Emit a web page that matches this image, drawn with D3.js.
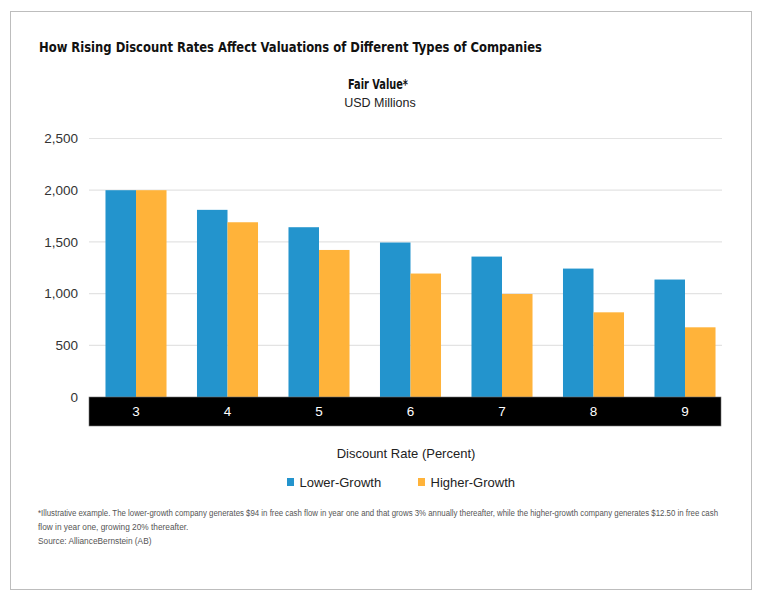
<!DOCTYPE html>
<html>
<head>
<meta charset="utf-8">
<script src="https://cdn.jsdelivr.net/npm/d3@7"></script>
<style>
  body { margin: 0; background: #fff; }
  text { font-family: "Liberation Sans", Arial, sans-serif; }
  .cond { font-family: "Liberation Sans Narrow", "DejaVu Sans Condensed", "Roboto Condensed", sans-serif; font-stretch: condensed; font-weight: bold; }
</style>
</head>
<body>
<svg id="chart" width="763" height="602"></svg>
<script>
// discount rates on x axis
var categories = ['3', '4', '5', '6', '7', '8', '9'];
var seriesNames = ['Lower-Growth', 'Higher-Growth'];
var lowerGrowth = [2000, 1810, 1642, 1494, 1358, 1242, 1136];
var higherGrowth = [2000, 1690, 1422, 1194, 996, 819, 674];
var yTicks = [0, 500, 1000, 1500, 2000, 2500];
var colors = ['#2394cd', '#ffb33a'];

var footnote = [
  '*Illustrative example. The lower-growth company generates $94 in free cash flow in year one and that grows 3% annually thereafter, while the higher-growth company generates $12.50 in free cash',
  'flow in year one, growing 20% thereafter.',
  'Source: AllianceBernstein (AB)'
];

var svg = d3.select('#chart');

// outer frame
svg.append('rect')
    .attr('x', 10.5).attr('y', 11.5)
    .attr('width', 741).attr('height', 578)
    .attr('fill', '#fff').attr('stroke', '#bdbdbd');

// squeeze text to the width seen in the picture
function fitText(sel, w) {
  var len = sel.node().getComputedTextLength();
  if (Math.abs(len - w) > 2) sel.attr('textLength', w).attr('lengthAdjust', 'spacingAndGlyphs');
}

var title = svg.append('text').attr('class', 'cond')
    .attr('x', 39).attr('y', 51.5)
    .attr('font-size', 14.5).attr('fill', '#111')
    .text('How Rising Discount Rates Affect Valuations of Different Types of Companies');
fitText(title, 503);

var sub = svg.append('text').attr('class', 'cond')
    .attr('x', 378).attr('y', 88.5).attr('text-anchor', 'middle')
    .attr('font-size', 14).attr('fill', '#111')
    .text('Fair Value*');
fitText(sub, 60);

svg.append('text')
    .attr('x', 380).attr('y', 107).attr('text-anchor', 'middle')
    .attr('font-size', 12.5).attr('fill', '#222')
    .text('USD Millions');

var y = d3.scaleLinear().domain([0, 2500]).range([397, 138.5]);

var x0 = d3.scaleBand().domain(categories).range([90.25, 730.75])
    .paddingInner(0.333).paddingOuter(0.1665);
var x1 = d3.scaleBand().domain(seriesNames).range([0, x0.bandwidth()]);

// gridlines
svg.append('g').selectAll('line').data(yTicks.slice(1)).join('line')
    .attr('x1', 89).attr('x2', 722)
    .attr('y1', function(d) { return y(d); })
    .attr('y2', function(d) { return y(d); })
    .attr('stroke', '#e3e3e3').attr('stroke-width', 1.2);

svg.append('g').selectAll('text').data(yTicks).join('text')
    .attr('x', 78).attr('y', function(d) { return y(d); })
    .attr('dy', '0.36em').attr('text-anchor', 'end')
    .attr('font-size', 13.5).attr('fill', '#333')
    .text(d3.format(','));

var rows = categories.map(function(c, i) {
  return { cat: c, vals: [lowerGrowth[i], higherGrowth[i]] };
});

var groups = svg.append('g').selectAll('g').data(rows).join('g')
    .attr('transform', function(d) { return 'translate(' + x0(d.cat) + ',0)'; });

groups.selectAll('rect').data(function(d) {
  return d.vals.map(function(v, j) { return { name: seriesNames[j], v: v, j: j }; });
}).join('rect')
    .attr('x', function(d) { return x1(d.name); })
    .attr('width', x1.bandwidth())
    .attr('y', function(d) { return y(d.v); })
    .attr('height', function(d) { return y(0) - y(d.v); })
    .attr('fill', function(d) { return colors[d.j]; });

// black category band
svg.append('rect')
    .attr('x', 89).attr('y', y(0))
    .attr('width', 632).attr('height', 29)
    .attr('fill', '#000').attr('stroke', '#777').attr('stroke-width', 0.6);

svg.append('g').selectAll('text').data(categories).join('text')
    .attr('x', function(d) { return x0(d) + x0.bandwidth() / 2; })
    .attr('y', 416)
    .attr('text-anchor', 'middle')
    .attr('font-size', 13.5).attr('fill', '#fff')
    .text(function(d) { return d; });

svg.append('text')
    .attr('x', 406).attr('y', 457.5).attr('text-anchor', 'middle')
    .attr('font-size', 13).attr('fill', '#222')
    .text('Discount Rate (Percent)');

// legend
var legendX = [287, 418];
var leg = svg.append('g').selectAll('g').data(seriesNames).join('g')
    .attr('transform', function(d, i) { return 'translate(' + legendX[i] + ',0)'; });
leg.append('rect')
    .attr('x', 0).attr('y', 478).attr('width', 7).attr('height', 8)
    .attr('fill', function(d, i) { return colors[i]; });
leg.append('text')
    .attr('x', 12.5).attr('y', 486.5)
    .attr('font-size', 13).attr('fill', '#222')
    .text(function(d) { return d; });

var fn = svg.append('g').selectAll('text').data(footnote).join('text')
    .attr('x', 38)
    .attr('y', function(d, i) { return 515.5 + i * 14; })
    .attr('font-size', 8.3).attr('fill', '#555')
    .text(function(d) { return d; });
fitText(d3.select(fn.nodes()[0]), 680);
</script>
</body>
</html>
